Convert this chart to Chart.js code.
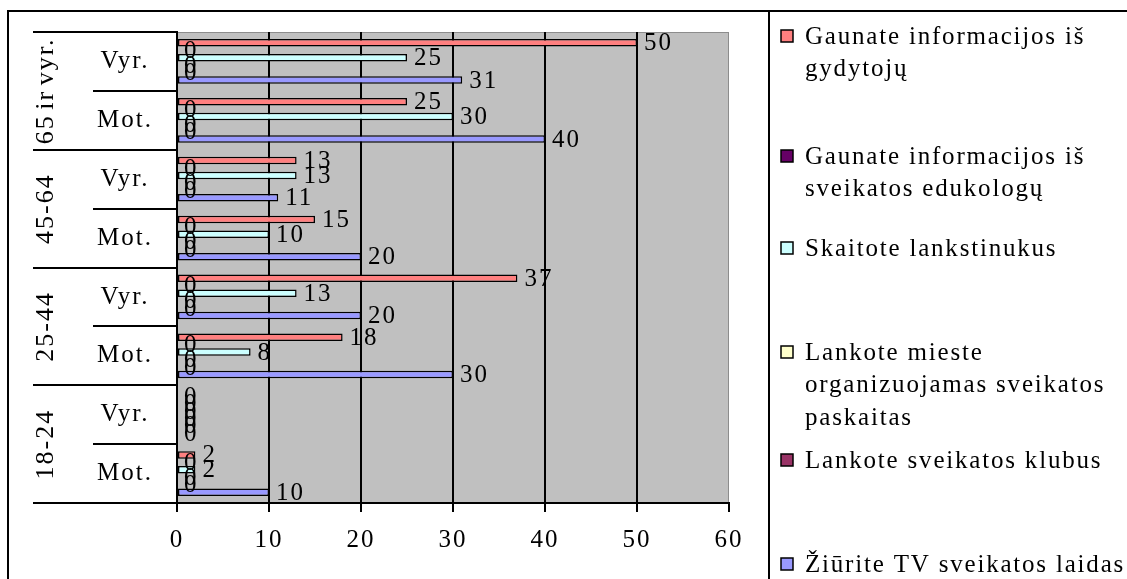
<!DOCTYPE html>
<html>
<head>
<meta charset="utf-8">
<script src="https://cdn.jsdelivr.net/npm/chart.js@4"></script>
<style>
  body { margin: 0; background: #fff; }
  #chart { display: block; }
</style>
</head>
<body>
<canvas id="chart" width="1127" height="579"></canvas>
<script>
// rows top to bottom, two per age group
const rowLabels = ['Vyr.', 'Mot.', 'Vyr.', 'Mot.', 'Vyr.', 'Mot.', 'Vyr.', 'Mot.'];
const ageGroups = ['65 ir vyr.', '45-64', '25-44', '18-24'];
const xTicks = [0, 10, 20, 30, 40, 50, 60];

const doctors   = [50, 25, 13, 15, 37, 18, 0, 2];
const educators = [0, 0, 0, 0, 0, 0, 0, 0];
const leaflets  = [25, 30, 13, 10, 13, 8, 0, 2];
const lectures  = [0, 0, 0, 0, 0, 0, 0, 0];
const clubs     = [0, 0, 0, 0, 0, 0, 0, 0];
const tvShows   = [31, 40, 11, 20, 20, 30, 0, 10];

const seriesNames = [
  ['Gaunate informacijos iš', 'gydytojų'],
  ['Gaunate informacijos iš', 'sveikatos edukologų'],
  ['Skaitote lankstinukus'],
  ['Lankote mieste', 'organizuojamas sveikatos', 'paskaitas'],
  ['Lankote sveikatos klubus'],
  ['Žiūrite TV sveikatos laidas']
];
const seriesColors = ['#ff8080', '#660066', '#ccffff', '#ffffcc', '#993366', '#9999ff'];
const seriesData = [doctors, educators, leaflets, lectures, clubs, tvShows];

const SERIF = '"Liberation Serif", "Times New Roman", serif';
const SPACING = '2px';

// legend rows (first line centre) on the right panel
const legendTops = [36, 156, 248, 352, 460, 564];

const decorations = {
  id: 'decorations',
  beforeUpdate(chart) {
    chart.ctx.letterSpacing = SPACING;
  },
  beforeDraw(chart) {
    const {ctx, chartArea: a} = chart;
    ctx.letterSpacing = SPACING;
    ctx.save();
    ctx.fillStyle = '#c0c0c0';
    ctx.fillRect(a.left, a.top, a.right - a.left, a.bottom - a.top);
    ctx.strokeStyle = '#8c8c8c';
    ctx.lineWidth = 1;
    ctx.strokeRect(a.left + 0.5, a.top + 0.5, a.right - a.left - 1, a.bottom - a.top - 1);
    ctx.restore();
  },
  afterDatasetsDraw(chart) {
    const ctx = chart.ctx;
    ctx.save();
    ctx.font = '25px ' + SERIF;
    ctx.letterSpacing = SPACING;
    ctx.fillStyle = '#000';
    ctx.textAlign = 'left';
    ctx.textBaseline = 'middle';
    chart.data.datasets.forEach((ds, i) => {
      chart.getDatasetMeta(i).data.forEach((bar, j) => {
        ctx.fillText(String(ds.data[j]), bar.x + 7, bar.y + 1);
      });
    });
    ctx.restore();
  },
  afterDraw(chart) {
    const {ctx, chartArea: a} = chart;
    const W = chart.width, H = chart.height;
    ctx.save();
    ctx.strokeStyle = '#000';
    ctx.lineWidth = 2;

    // outer frame and legend separator
    ctx.beginPath();
    ctx.moveTo(8, H); ctx.lineTo(8, 11); ctx.lineTo(W, 11);
    ctx.moveTo(769, 11); ctx.lineTo(769, H);
    ctx.stroke();

    // category dividers in the label column
    const band = (a.bottom - a.top) / rowLabels.length;
    ctx.beginPath();
    for (let k = 0; k <= rowLabels.length; k++) {
      const y = Math.round(a.top + k * band);
      ctx.moveTo(k % 2 === 0 ? 33 : 93, y);
      ctx.lineTo(a.left, y);
    }
    ctx.stroke();

    // age group labels, rotated
    ctx.fillStyle = '#000';
    ctx.font = '26px ' + SERIF;
    ctx.letterSpacing = '2px';
    ctx.wordSpacing = '-4px';
    ctx.textAlign = 'center';
    ctx.textBaseline = 'middle';
    ageGroups.forEach((g, i) => {
      const cy = a.top + (i * 2 + 1) * band;
      ctx.save();
      ctx.translate(46, cy);
      ctx.rotate(-Math.PI / 2);
      ctx.fillText(g, 0, 0);
      ctx.restore();
    });
    ctx.wordSpacing = '0px';

    // legend
    ctx.font = '25px ' + SERIF;
    ctx.letterSpacing = '1.8px';
    ctx.textAlign = 'left';
    ctx.lineWidth = 1.5;
    seriesNames.forEach((lines, i) => {
      const y0 = legendTops[i];
      ctx.fillStyle = seriesColors[i];
      ctx.fillRect(781, y0 - 6, 12, 12);
      ctx.strokeRect(781, y0 - 6, 12, 12);
      ctx.fillStyle = '#000';
      lines.forEach((t, n) => ctx.fillText(t, 805, y0 + 1 + n * 32.5));
    });
    ctx.restore();
  }
};

new Chart(document.getElementById('chart'), {
  type: 'bar',
  data: {
    labels: rowLabels,
    datasets: seriesData.map((d, i) => ({
      label: seriesNames[i].join(' '),
      data: d,
      backgroundColor: seriesColors[i],
      borderColor: '#000',
      borderWidth: 1.5,
      borderSkipped: false,
      categoryPercentage: 0.76,
      barPercentage: 1.0
    }))
  },
  options: {
    indexAxis: 'y',
    responsive: false,
    animation: false,
    layout: { padding: { top: 32, right: 398, left: 0, bottom: 0 } },
    plugins: {
      legend: { display: false },
      tooltip: { enabled: false }
    },
    scales: {
      x: {
        min: xTicks[0],
        max: xTicks[xTicks.length - 1],
        afterFit(scale) {
          scale.height = 76;
          scale.paddingLeft = 0;
          scale.paddingRight = 0;
        },
        afterBuildTicks(scale) { scale.ticks = xTicks.map(v => ({ value: v })); },
        ticks: {
          color: '#000',
          font: { family: SERIF, size: 25 },
          padding: 13,
          maxRotation: 0
        },
        grid: {
          color: c => (c.tick && c.tick.value === xTicks[xTicks.length - 1]) ? 'rgba(0,0,0,0)' : '#000',
          tickColor: '#000',
          lineWidth: 2,
          tickLength: 9
        },
        border: { color: '#000', width: 2 }
      },
      y: {
        afterFit(scale) {
          scale.width = 177;
          scale.paddingTop = 0;
          scale.paddingBottom = 0;
        },
        ticks: {
          color: '#000',
          font: { family: SERIF, size: 25 },
          crossAlign: 'center',
          padding: 24
        },
        grid: { display: false, drawTicks: false },
        border: { display: true, color: '#000', width: 2 }
      }
    }
  },
  plugins: [decorations]
});
</script>
</body>
</html>
